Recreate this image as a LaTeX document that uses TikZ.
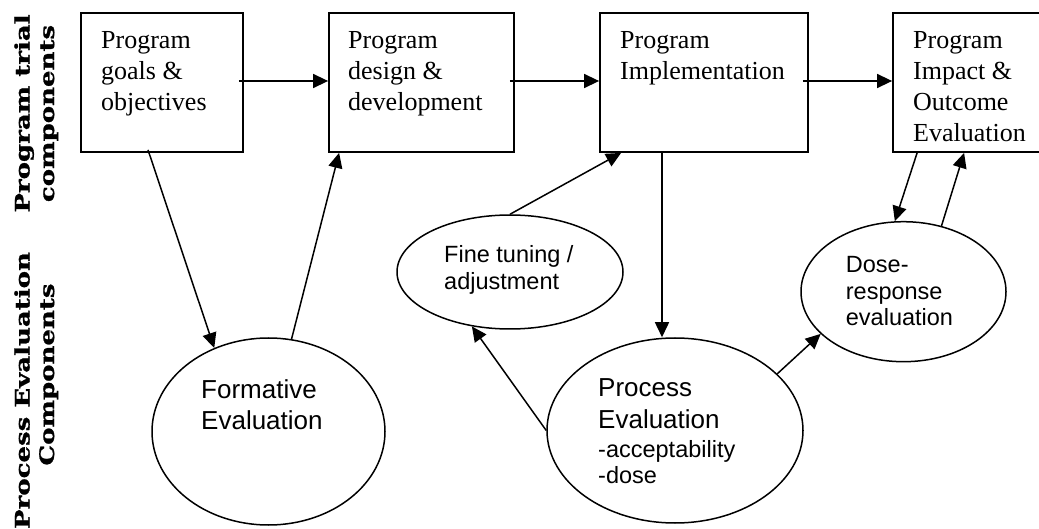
\documentclass[tikz,border=0pt]{standalone}
\usepackage{fontspec}
\setmainfont{Liberation Serif}
\newfontfamily\arialf{Liberation Sans}
\newfontfamily\labelf{DejaVu Serif Bold}[FakeStretch=1.3,FakeBold=1.2]
\usetikzlibrary{shapes.geometric,arrows.meta}
\begin{document}
\begin{tikzpicture}[x=1pt,y=-1pt,
  box/.style={draw, rectangle, inner sep=0pt, line width=1.8pt},
  oval/.style={draw, ellipse, inner sep=0pt, line width=1.5pt},
  btxt/.style={anchor=base west, inner sep=0pt, align=left, font=\fontsize{26}{30.7}\selectfont},
  etxt/.style={anchor=base west, inner sep=0pt, align=left, font=\arialf\fontsize{23.5}{26.2}\selectfont},
  ebig/.style={anchor=base west, inner sep=0pt, align=left, font=\arialf\fontsize{26}{31.5}\selectfont},
  lbl/.style={anchor=base, inner sep=0pt, align=center, rotate=90, font=\labelf\fontsize{20}{24.5}\selectfont},
  arr/.style={line width=1.5pt, -{Triangle[length=15pt,width=14pt]}}]
\useasboundingbox (0,0) rectangle (1039,529);

% side labels (anchor = baseline of the last line)
\node[lbl] (lt) at (54,113.5) {Program trial\\components};
\node[lbl] (lb) at (54,390.5) {Process Evaluation\\\hspace*{32pt}Components};

% program trial boxes
\node[box, minimum width=162pt, minimum height=139pt] (b1) at (162,82.5) {};
\node[box, minimum width=185pt, minimum height=139pt] (b2) at (421.5,82.5) {};
\node[box, minimum width=208pt, minimum height=139pt] (b3) at (704,82.5) {};
\node[box, minimum width=152pt, minimum height=139pt] (b4) at (969,82.5) {};

\node[btxt] (b1t) at (101,110.4) {Program\\goals \&\\objectives};
\node[btxt] (b2t) at (348,110.4) {Program\\design \&\\development};
\node[btxt] (b3t) at (620,79.7) {Program\\Implementation};
\node[btxt] (b4t) at (913,141.1) {Program\\Impact \&\\Outcome\\Evaluation};

% process evaluation ellipses
\node[oval, minimum width=233pt, minimum height=187pt] (fe) at (268.5,431.5) {};
\node[oval, minimum width=226pt, minimum height=114pt] (ft) at (510,272) {};
\node[oval, minimum width=256pt, minimum height=185pt] (pe) at (675,430.5) {};
\node[oval, minimum width=205pt, minimum height=140pt] (dr) at (903.5,291.7) {};

\node[ebig] (fet) at (201,429.5) {Formative\\Evaluation};
\node[etxt] (ftt) at (444,289.2) {Fine tuning /\\adjustment};
\node[ebig] (pet) at (598,483) {Process\\Evaluation\\[-2.5pt]{\fontsize{23.5}{26.2}\selectfont -acceptability}\\[-5.5pt]{\fontsize{23.5}{26.2}\selectfont -dose}};
\node[etxt] (drt) at (845.7,325.4) {Dose-\\response\\evaluation};

% connectors
\draw[arr] ([xshift=-5pt,yshift=1.5pt]b1.east) -- ([yshift=1.5pt]b2.west);
\draw[arr] ([xshift=-5pt,yshift=1.5pt]b2.east) -- ([yshift=1.5pt]b3.west);
\draw[arr] ([xshift=-6pt,yshift=1.5pt]b3.east) -- ([yshift=1.5pt]b4.west);
\draw[arr] ([xshift=-14pt,yshift=3pt]b1.south) -- (fe.123);
\draw[arr] (fe.76) -- ([xshift=11pt]b2.south west);
\draw[arr] (ft.north) -- ([xshift=22pt]b3.south west);
\draw[arr] ([xshift=-42pt]b3.south) -- ([xshift=-42pt]b3.south |- pe.north);
\draw[arr] (pe.west) -- (ft.235);
\draw[arr] (pe.29) -- (dr.207);
\draw[arr] ([xshift=25pt]b4.south west) -- (dr.97);
\draw[arr] (dr.60) -- ([xshift=72pt]b4.south west);
\end{tikzpicture}
\end{document}
